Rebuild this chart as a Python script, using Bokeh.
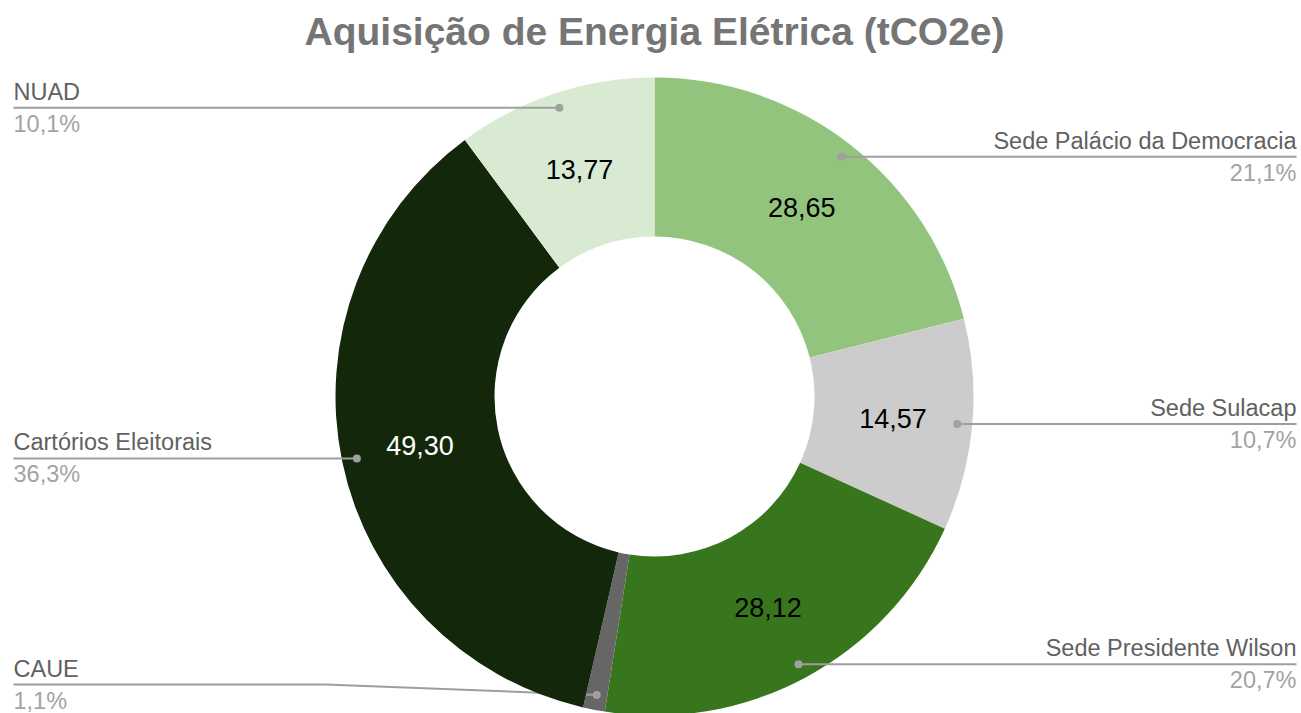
import math
from bokeh.plotting import figure
from bokeh.models import Range1d
from bokeh.core.properties import value
from bokeh.embed import file_html
from bokeh.resources import INLINE

# ---- data ----
title_text = "Aquisição de Energia Elétrica (tCO2e)"
categories = ["Sede Palácio da Democracia", "Sede Sulacap", "Sede Presidente Wilson",
              "CAUE", "Cartórios Eleitorais", "NUAD"]
values = [28.65, 14.57, 28.12, 1.50, 49.30, 13.77]
colors = ["#93c47d", "#cccccc", "#38761d", "#666666", "#13280a", "#d9ead3"]

# ---- layout (pixel space of the 1301x713 page) ----
PAGE_W, PAGE_H = 1301, 713
CX, CY = 654, 396          # donut centre (image px)
R_OUT, R_IN = 319, 160
DOT_R = R_OUT - 15
LABEL_R = (R_OUT + R_IN) / 2
LEFT_X, RIGHT_X = 13, 1296
BEND_DX = 325
LABEL_Y_MAX = 684
FONT = value("Liberation Sans")


def Y(img_y):
    return PAGE_H - img_y


p = figure(width=PAGE_W, height=PAGE_H, x_range=Range1d(0, PAGE_W), y_range=Range1d(0, PAGE_H),
           output_backend="svg", toolbar_location=None, min_border=0,
           x_axis_type=None, y_axis_type=None)
p.grid.visible = False
p.outline_line_color = None
p.background_fill_color = "white"
p.border_fill_color = "white"

total = sum(values)
cum = 0.0
for name, v, col in zip(categories, values, colors):
    frac = v / total
    a0 = cum * 2 * math.pi
    a1 = (cum + frac) * 2 * math.pi
    mid = (a0 + a1) / 2
    cum += frac
    p.annular_wedge(x=CX, y=Y(CY), inner_radius=R_IN, outer_radius=R_OUT,
                    start_angle=math.pi / 2 - a0, end_angle=math.pi / 2 - a1,
                    direction="clock", fill_color=col, line_color=None)

    # value label in the slice
    if frac > 0.05:
        lx = CX + LABEL_R * math.sin(mid)
        ly = CY - LABEL_R * math.cos(mid)
        r_, g_, b_ = int(col[1:3], 16), int(col[3:5], 16), int(col[5:7], 16)
        lum = 0.299 * r_ + 0.587 * g_ + 0.114 * b_
        tcol = "white" if lum < 60 else "black"
        p.text(x=[lx], y=[Y(ly)], text=[f"{v:.2f}".replace(".", ",")],
               text_font=FONT, text_font_size="27px", text_color=tcol,
               text_align="center", text_baseline="middle")

    # leader line + outside labels
    dx = CX + DOT_R * math.sin(mid)
    dy = CY - DOT_R * math.cos(mid)
    ly = min(dy, LABEL_Y_MAX)
    left = mid > math.pi
    if left:
        xs = [dx, BEND_DX, LEFT_X]
        tx, align = LEFT_X, "left"
    else:
        xs = [dx, PAGE_W - BEND_DX, RIGHT_X]
        tx, align = RIGHT_X, "right"
    p.line(x=xs, y=[Y(dy), Y(ly), Y(ly)], line_color="#9e9e9e", line_width=2)
    p.scatter(x=[dx], y=[Y(dy)], size=8, marker="circle", fill_color="#a0a0a0", line_color=None)
    p.text(x=[tx], y=[Y(ly - 16)], text=[name], text_font=FONT, text_font_size="23.5px",
           text_color="#616161", text_align=align, text_baseline="middle")
    pct = f"{100 * frac:.1f}%".replace(".", ",")
    p.text(x=[tx], y=[Y(ly + 16)], text=[pct], text_font=FONT, text_font_size="23.5px",
           text_color="#a3a3a3", text_align=align, text_baseline="middle")

# title
p.text(x=[CX], y=[Y(31)], text=[title_text], text_font=FONT, text_font_size="39px",
       text_font_style="bold", text_color="#757575", text_align="center",
       text_baseline="middle")

open("out.html", "w").write(file_html(p, INLINE))
